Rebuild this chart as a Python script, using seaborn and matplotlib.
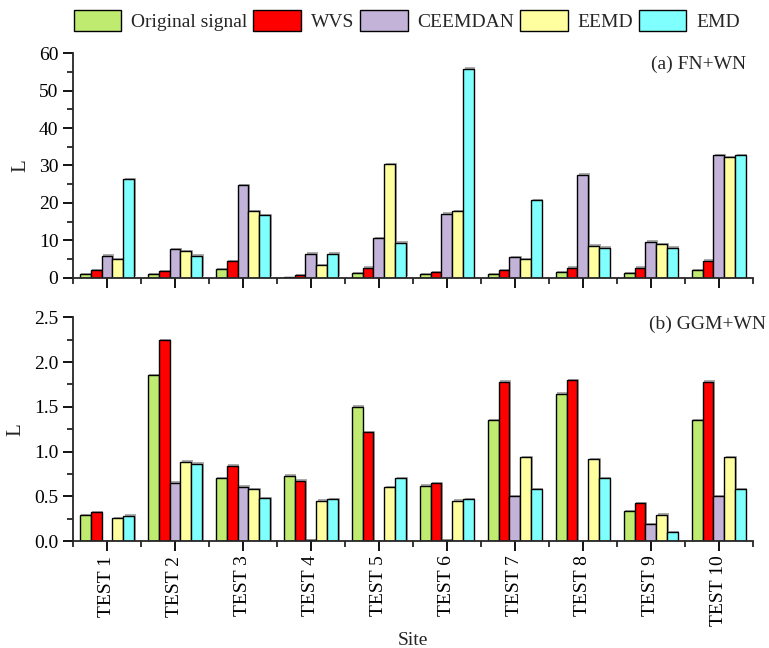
import numpy as np
import pandas as pd
import matplotlib
matplotlib.use("Agg")
import matplotlib.pyplot as plt
from matplotlib.patches import Patch
from matplotlib.ticker import MultipleLocator, FixedLocator
import matplotlib.patheffects as pe
import seaborn as sns

sites = ["TEST 1", "TEST 2", "TEST 3", "TEST 4", "TEST 5",
         "TEST 6", "TEST 7", "TEST 8", "TEST 9", "TEST 10"]
methods = ["Original signal", "WVS", "CEEMDAN", "EEMD", "EMD"]
colors = ["#BFEB70", "#FF0000", "#C3B3D8", "#FFFFA0", "#80FFFF"]

# (a) FN+WN
a_original = [0.9, 0.9, 2.2, 0.1, 1.25, 0.9, 0.9, 1.5, 1.25, 2.05]
a_wvs      = [2.05, 1.8, 4.4, 0.6, 2.7, 1.5, 2.05, 2.7, 2.7, 4.5]
a_ceemdan  = [5.9, 7.6, 24.7, 6.4, 10.5, 17.1, 5.4, 27.5, 9.6, 32.8]
a_eemd     = [5.0, 7.1, 17.7, 3.3, 30.3, 17.7, 4.9, 8.5, 8.9, 32.3]
a_emd      = [26.4, 5.9, 16.7, 6.4, 9.4, 55.9, 20.8, 8.0, 8.0, 32.8]

# (b) GGM+WN
b_original = [0.29, 1.855, 0.70, 0.73, 1.50, 0.62, 1.35, 1.645, 0.335, 1.35]
b_wvs      = [0.325, 2.245, 0.84, 0.675, 1.215, 0.648, 1.78, 1.80, 0.42, 1.78]
b_ceemdan  = [0.0, 0.65, 0.607, 0.008, 0.0, 0.008, 0.50, 0.0, 0.186, 0.50]
b_eemd     = [0.255, 0.887, 0.577, 0.45, 0.604, 0.45, 0.935, 0.913, 0.294, 0.935]
b_emd      = [0.285, 0.864, 0.477, 0.466, 0.70, 0.466, 0.577, 0.70, 0.10, 0.577]


def long_df(series):
    rows = []
    for m, vals in zip(methods, series):
        for s, v in zip(sites, vals):
            rows.append({"Site": s, "Method": m, "L": v})
    return pd.DataFrame(rows)


df_a = long_df([a_original, a_wvs, a_ceemdan, a_eemd, a_emd])
df_b = long_df([b_original, b_wvs, b_ceemdan, b_eemd, b_emd])

sns.set_style("ticks")
plt.rcParams["font.family"] = ["Liberation Serif", "DejaVu Serif"]
plt.rcParams["font.size"] = 14

fig = plt.figure(figsize=(7.69, 6.48), dpi=100)
ax1 = fig.add_axes([0.0949, 0.5715, 0.8841, 0.3462])
ax2 = fig.add_axes([0.0949, 0.1651, 0.8841, 0.3452])

shadow = [pe.SimplePatchShadow(offset=(1.0, 1.0), shadow_rgbFace="0.45", alpha=0.6),
          pe.Normal()]

for ax, df in [(ax1, df_a), (ax2, df_b)]:
    sns.barplot(data=df, x="Site", y="L", hue="Method", hue_order=methods,
                order=sites, palette=colors, edgecolor="black", linewidth=1.0,
                width=0.8, saturation=1, ax=ax, legend=False)
    for p in ax.patches:
        if p.get_height() > 0:
            p.set_path_effects(shadow)
    ax.set_xlim(-0.5, 9.5)
    for side in ["top", "right"]:
        ax.spines[side].set_visible(False)
    ax.spines["left"].set_linewidth(1.3)
    ax.spines["bottom"].set_linewidth(1.3)
    ax.xaxis.set_minor_locator(FixedLocator(np.arange(-0.5, 10, 1.0)))
    ax.tick_params(axis="both", which="major", direction="out", length=7, width=1.3,
                   labelsize=14, colors="black")
    ax.tick_params(axis="both", which="minor", direction="out", length=4, width=1.3)
    ax.set_ylabel("L", fontsize=15, labelpad=6)

ax1.set_ylim(0, 60)
ax1.yaxis.set_major_locator(MultipleLocator(10))
ax1.yaxis.set_minor_locator(MultipleLocator(5))
ax1.set_xlabel("")
ax1.set_xticklabels([])
ax1.text(0.99, 0.95, "(a) FN+WN", transform=ax1.transAxes, ha="right", va="center",
         fontsize=14)

ax2.set_ylim(0, 2.5)
ax2.yaxis.set_major_locator(MultipleLocator(0.5))
ax2.yaxis.set_minor_locator(MultipleLocator(0.25))
ax2.yaxis.set_major_formatter(matplotlib.ticker.FormatStrFormatter("%.1f"))
ax2.set_xticks(range(len(sites)))
ax2.set_xticklabels(sites, rotation=90, fontsize=14)
ax2.set_xlabel("Site", fontsize=14, labelpad=4)
ax2.text(1.02, 0.97, "(b) GGM+WN", transform=ax2.transAxes, ha="right", va="center",
         fontsize=14)

handles = [Patch(facecolor=c, edgecolor="black", linewidth=1.0) for c in colors]
fig.legend(handles, methods, loc="upper center", bbox_to_anchor=(0.529, 1.012), ncol=5,
           frameon=False, fontsize=14, handlelength=2.45, handleheight=1.3,
           columnspacing=0.3, handletextpad=0.5)

fig.savefig("out.png", dpi=100)
